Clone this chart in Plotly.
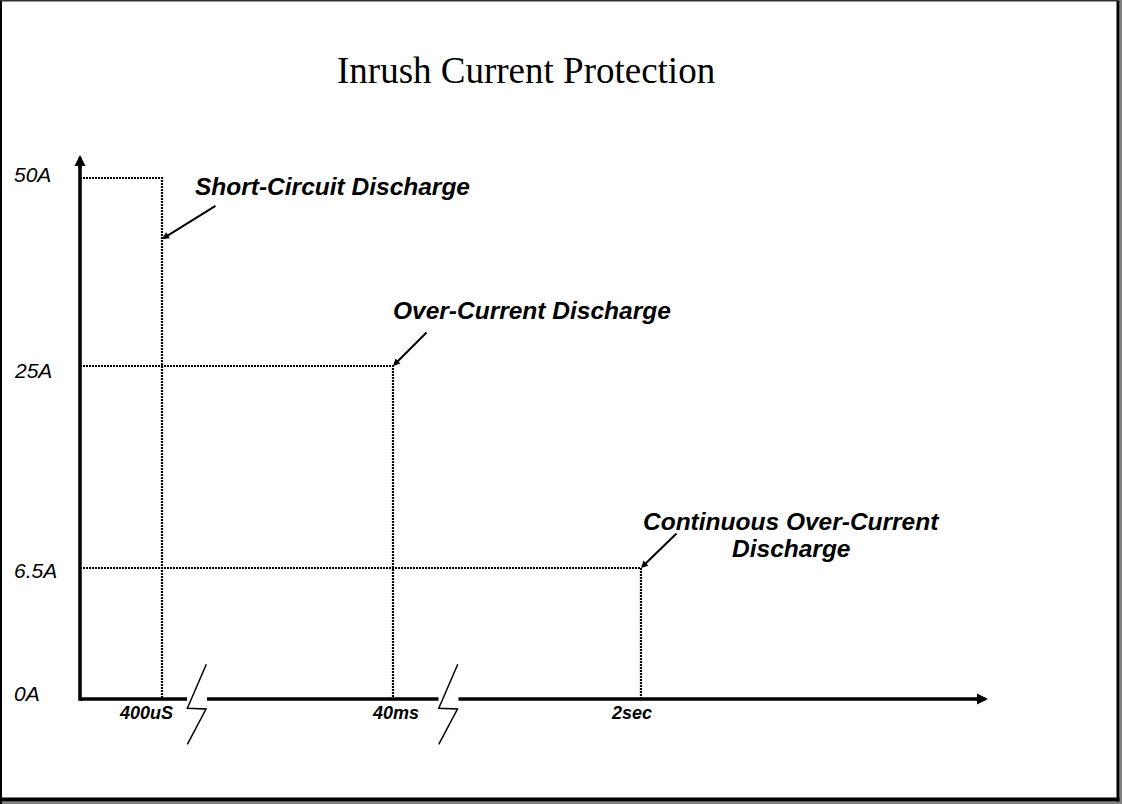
import plotly.graph_objects as go

# ---------------- data ----------------
title_text = "Inrush Current Protection"
current_levels = [50, 25, 6.5]            # amps (schematic chart)
current_labels = ["50A", "25A", "6.5A"]
zero_label = "0A"
trip_times = ["400uS", "40ms", "2sec"]
event_names = ["Short-Circuit Discharge",
               "Over-Current Discharge",
               "Continuous Over-Current<br>Discharge"]

# ---------------- schematic layout (positions / styles, not data) ----------------
W, H = 1122, 804
# axis units: x 0..1 = y-axis .. x-arrow tip ; y 0..1 = x-axis .. y-arrow tip
time_pos = [0.0903, 0.3447, 0.6178]       # where each trip time sits on the broken time axis
level_pos = [0.9577, 0.6121, 0.2408]      # where each current level sits on the schematic axis
break_pos = [0.1289, 0.4058]              # axis breaks
pointer_tip_y = [0.8456, None, None]      # arrow tip height (None -> at the level corner)
pointer_tail_px = [(55, -34), (35, -35), (37, -36)]
label_shift_px = [(30.7, -8.5, "left"), (-1.5, 55.5, "left"), (150, 47, "center")]
label_line_gap = 27
ylab_shift = [4, -4, -2, 6]
xlab_shift = [-16, 2.5, -9]

X_RANGE = [-80 / 908, 1042 / 908]
Y_RANGE = [-105 / 544, 699 / 544]

SANS = "Liberation Sans, Arial, sans-serif"
SERIF = "Liberation Serif, Times New Roman, serif"

fig = go.Figure()

# dotted guide lines for each (level, time) pair
for lvl, lp, tp in zip(current_levels, level_pos, time_pos):
    fig.add_trace(go.Scatter(
        x=[0, tp, tp], y=[lp, lp, 0], mode="lines",
        line=dict(color="black", width=2.2, dash="2px,1px"),
        hoverinfo="skip", showlegend=False, name=f"{lvl}A"))

shapes = []
# axes lines
shapes.append(dict(type="line", xref="x", yref="y", x0=0, x1=0.99, y0=0, y1=0,
                   line=dict(color="black", width=3.5)))
shapes.append(dict(type="line", xref="x", yref="y", x0=0, x1=0, y0=-0.003, y1=0.985,
                   line=dict(color="black", width=3.5)))
# axis breaks: white gap + zigzag
for bp in break_pos:
    shapes.append(dict(type="rect", xref="x", yref="y", xsizemode="pixel", ysizemode="pixel",
                       xanchor=bp, yanchor=0, x0=-10, x1=10, y0=-4, y1=4,
                       fillcolor="white", line=dict(width=0)))
    shapes.append(dict(type="path", xref="x", yref="y", xsizemode="pixel", ysizemode="pixel",
                       xanchor=bp, yanchor=0,
                       path="M 9.3,34.7 L -9.7,-9.3 L 9,-10 L -9.7,-45.3",
                       line=dict(color="black", width=1.5)))
# slide frame
shapes += [
    dict(type="rect", xref="paper", yref="paper", x0=1119.5 / W, x1=1, y0=0, y1=1,
         fillcolor="#808080", line=dict(width=0)),
    dict(type="rect", xref="paper", yref="paper", x0=0, x1=1, y0=0, y1=2.5 / H,
         fillcolor="#808080", line=dict(width=0)),
    dict(type="rect", xref="paper", yref="paper", x0=1116.5 / W, x1=1119.5 / W,
         y0=2.5 / H, y1=1 - 1 / H, fillcolor="black", line=dict(width=0)),
    dict(type="rect", xref="paper", yref="paper", x0=0, x1=1119.5 / W,
         y0=2.5 / H, y1=6.5 / H, fillcolor="black", line=dict(width=0)),
    dict(type="rect", xref="paper", yref="paper", x0=0, x1=2 / W, y0=0, y1=1,
         fillcolor="black", line=dict(width=0)),
    dict(type="rect", xref="paper", yref="paper", x0=0, x1=1119.5 / W, y0=1 - 1.5 / H, y1=1,
         fillcolor="#333333", line=dict(width=0)),
]

ann = []
# title
ann.append(dict(text=title_text, xref="paper", yref="paper", x=526 / W, y=1 - 70 / H,
                xanchor="center", yanchor="middle", showarrow=False,
                font=dict(family=SERIF, size=37, color="black")))
# axis arrowheads
ann.append(dict(text="", x=1, y=0, xref="x", yref="y", ax=-14, ay=0, showarrow=True,
                arrowhead=2, arrowsize=0.63, arrowwidth=3.5, arrowcolor="black", standoff=0))
ann.append(dict(text="", x=0, y=1, xref="x", yref="y", ax=0, ay=14, showarrow=True,
                arrowhead=2, arrowsize=0.63, arrowwidth=3.5, arrowcolor="black", standoff=0))
# y labels
for lab, lp, dy in zip(current_labels + [zero_label], level_pos + [0], ylab_shift):
    ann.append(dict(text=lab, xref="paper", yref="y", x=12 / W, y=lp, yshift=dy,
                    xanchor="left", yanchor="middle", showarrow=False,
                    font=dict(family=SANS, size=21, color="black", style="italic")))
# x labels
for lab, tp, dx in zip(trip_times, time_pos, xlab_shift):
    ann.append(dict(text=lab, xref="x", yref="y", x=tp, y=0, xshift=dx, yshift=-14,
                    xanchor="center", yanchor="middle", showarrow=False,
                    font=dict(family=SANS, size=18, color="black", style="italic", weight="bold")))
# event labels + pointer arrows
for name, tp, lp, tipy, tail, (dx, dy, anchor) in zip(
        event_names, time_pos, level_pos, pointer_tip_y, pointer_tail_px, label_shift_px):
    ann.append(dict(text="", x=tp, y=lp if tipy is None else tipy, xref="x", yref="y",
                    ax=tail[0], ay=tail[1], showarrow=True, arrowhead=2, arrowsize=0.7,
                    arrowwidth=2, arrowcolor="black", standoff=0))
    for k, line in enumerate(name.split("<br>")):
        ann.append(dict(text=line, x=tp, y=lp, xref="x", yref="y",
                        xshift=dx, yshift=dy - k * label_line_gap,
                        xanchor=anchor, yanchor="middle", showarrow=False,
                        font=dict(family=SANS, size=24.5, color="black",
                                  style="italic", weight="bold")))

fig.update_layout(
    width=W, height=H, autosize=False,
    margin=dict(l=0, r=0, t=0, b=0, pad=0),
    paper_bgcolor="white", plot_bgcolor="white",
    xaxis=dict(range=X_RANGE, visible=False, fixedrange=True),
    yaxis=dict(range=Y_RANGE, visible=False, fixedrange=True),
    shapes=shapes, annotations=ann, showlegend=False,
)

fig.write_html("out.html", config={"displayModeBar": False},
               post_script="document.body.style.margin='0';document.body.style.overflow='hidden';")
